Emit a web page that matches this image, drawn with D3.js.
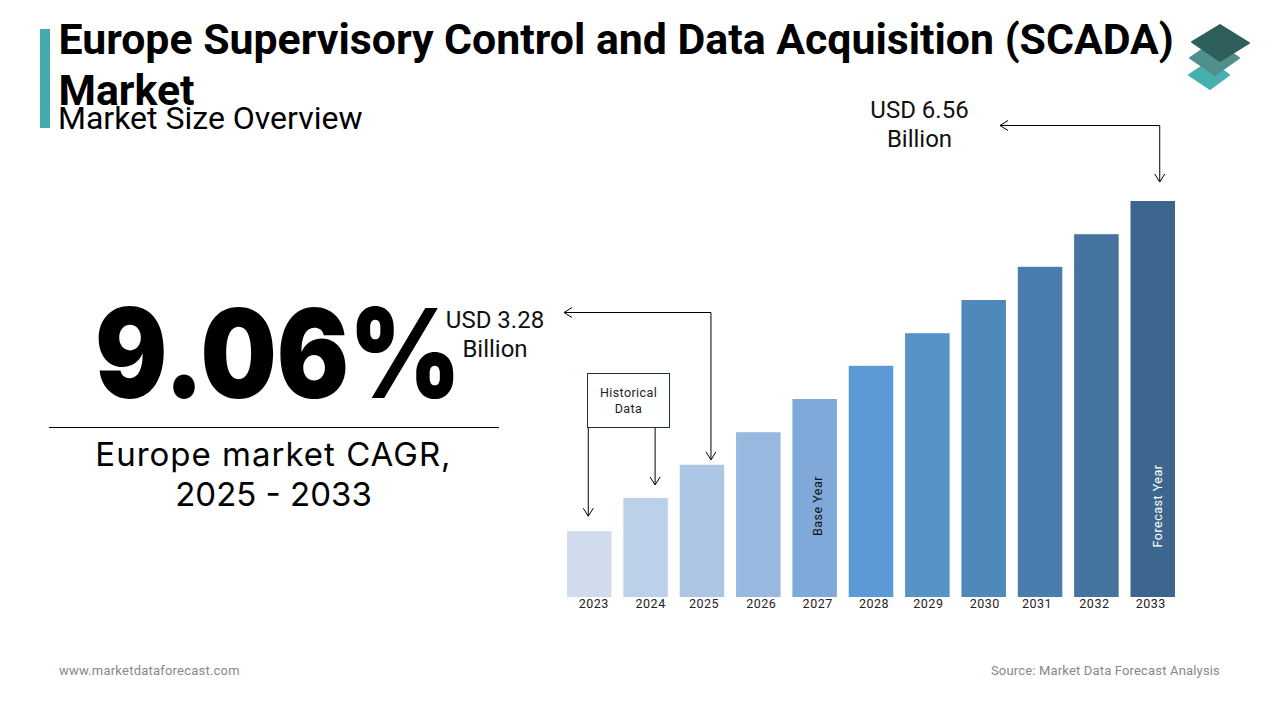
<!DOCTYPE html>
<html>
<head>
<meta charset="utf-8">
<script src="https://cdn.jsdelivr.net/npm/d3@7"></script>
<style>
  html, body { margin: 0; padding: 0; background: #fff; }
  svg { display: block; font-family: Roboto, sans-serif; }
</style>
</head>
<body>
<svg id="chart" width="1280" height="720"></svg>
<script>
const years = ["2023", "2024", "2025", "2026", "2027", "2028", "2029", "2030", "2031", "2032", "2033"];
// bar heights, on a scale where the 2033 bar is 6.56
const barValues = [1.09, 1.64, 2.19, 2.73, 3.28, 3.83, 4.37, 4.92, 5.47, 6.01, 6.56];
const barColors = ["#d0dcee", "#bdd0e9", "#adc6e4", "#97b8df", "#7fa9d9", "#5b9ad6", "#5592c8", "#4f89bb", "#4a7dad", "#44739f", "#3c668d"];
// the year labels sit a little off the bar centres in the original
const tickNudge = [4.5, 5, 2, 3, 3, 3, 1, 1, -3, -2, -2];

const titleLines = ["Europe Supervisory Control and Data Acquisition (SCADA)", "Market"];
const subtitle = "Market Size Overview";
const cagrValue = "9.06%";
const cagrLines = ["Europe market CAGR,", "2025 - 2033"];
const startLabel = ["USD 3.28", "Billion"];
const endLabel = ["USD 6.56", "Billion"];
const historicalLabel = ["Historical", "Data"];
const footerLeft = "www.marketdataforecast.com";
const footerRight = "Source: Market Data Forecast Analysis";

const svg = d3.select("#chart");

const x = d3.scaleBand()
  .domain(years)
  .range([567, 1175])
  .paddingInner(0.21)
  .paddingOuter(0);

const y = d3.scaleLinear()
  .domain([0, 6.56])
  .range([597, 201]);

const barTop = year => y(barValues[years.indexOf(year)]);

// header
svg.append("rect")
  .attr("x", 40).attr("y", 29)
  .attr("width", 10).attr("height", 99)
  .attr("fill", "#45aaaa");

svg.append("g").selectAll("text")
  .data(titleLines)
  .join("text")
  .attr("x", 58.5)
  .attr("y", (d, i) => 54 + i * 51)
  .attr("font-size", 42.8)
  .attr("font-weight", 700)
  .attr("fill", "#000")
  .text(d => d);

svg.append("text")
  .attr("x", 58).attr("y", 129)
  .attr("font-size", 32)
  .attr("fill", "#000")
  .text(subtitle);

// logo, three stacked diamonds
const logo = svg.append("g");
const layers = [
  { points: [[1189, 75], [1210, 61], [1229, 75], [1210, 89]], fill: "#46b0b0" },
  { points: [[1190, 58], [1215, 41], [1239, 58], [1215, 75]], fill: "#4f8f8c" },
  { points: [[1192, 42], [1220, 25], [1249, 43], [1220, 61]], fill: "#2f5f5c" }
];
logo.selectAll("polygon")
  .data(layers)
  .join("polygon")
  .attr("points", d => d.points.join(" "))
  .attr("fill", d => d.fill)
  .attr("stroke", d => d.fill)
  .attr("stroke-width", 2)
  .attr("stroke-linejoin", "round");

// left block
svg.append("text")
  .attr("x", 95).attr("y", 398)
  .attr("font-family", "Inter, sans-serif")
  .attr("font-size", 124)
  .attr("font-weight", 900)
  .attr("textLength", 366)
  .attr("lengthAdjust", "spacingAndGlyphs")
  .attr("fill", "#000")
  .text(cagrValue);

svg.append("line")
  .attr("x1", 49).attr("x2", 499)
  .attr("y1", 427.5).attr("y2", 427.5)
  .attr("stroke", "#000")
  .attr("stroke-width", 1);

svg.append("g").selectAll("text")
  .data(cagrLines)
  .join("text")
  .attr("x", 273.5)
  .attr("y", (d, i) => 466 + i * 39.5)
  .attr("text-anchor", "middle")
  .attr("font-family", "Inter, sans-serif")
  .attr("font-size", 33)
  .attr("letter-spacing", (d, i) => i === 0 ? 1 : 0)
  .attr("fill", "#000")
  .text(d => d);

// bars
svg.append("g").selectAll("rect")
  .data(years)
  .join("rect")
  .attr("x", d => x(d))
  .attr("y", d => barTop(d))
  .attr("width", x.bandwidth())
  .attr("height", d => y(0) - barTop(d))
  .attr("fill", (d, i) => barColors[i]);

const xAxis = svg.append("g")
  .attr("transform", `translate(0,${y(0)})`)
  .call(d3.axisBottom(x).tickSize(0).tickPadding(2));
xAxis.select(".domain").remove();
xAxis.selectAll("text")
  .attr("dx", (d, i) => tickNudge[i])
  .attr("font-family", "Roboto, sans-serif")
  .attr("font-size", 12.5)
  .attr("letter-spacing", 0.5)
  .attr("fill", "#222");

// labels inside the bars
function barNote(year, text, color, dx) {
  const cx = x(year) + x.bandwidth() / 2 + dx;
  svg.append("text")
    .attr("transform", `translate(${cx},${y(0) - 91}) rotate(-90)`)
    .attr("text-anchor", "middle")
    .attr("dy", "0.35em")
    .attr("font-size", 12.5)
    .attr("letter-spacing", 0.5)
    .attr("fill", color)
    .text(text);
}
barNote("2027", "Base Year", "#111", 3);
barNote("2033", "Forecast Year", "#fff", 5);

// arrows
const arrows = svg.append("g")
  .attr("fill", "none")
  .attr("stroke", "#000")
  .attr("stroke-width", 1);

function arrowHead(tx, ty, dir) {
  const len = 8, half = 5;
  const d = dir === "down"
    ? [[tx - half, ty - len], [tx, ty], [tx + half, ty - len]]
    : [[tx + len, ty - half], [tx, ty], [tx + len, ty + half]];
  arrows.append("path").attr("d", d3.line()(d));
}

function elbowArrow(year, dx, gap, leftEnd, rowY) {
  const ax = x(year) + x.bandwidth() / 2 + dx;
  const tip = barTop(year) - gap;
  arrows.append("path").attr("d", d3.line()([[leftEnd, rowY], [ax, rowY], [ax, tip]]));
  arrowHead(leftEnd, rowY, "left");
  arrowHead(ax, tip, "down");
}
elbowArrow("2025", 9, 5, 564, 312.5);
elbowArrow("2033", 7, 19, 1000, 125.5);

function dropArrow(year, dx, gap, startY) {
  const ax = x(year) + x.bandwidth() / 2 + dx;
  const tip = barTop(year) - gap;
  arrows.append("path").attr("d", d3.line()([[ax, startY], [ax, tip]]));
  arrowHead(ax, tip, "down");
}
dropArrow("2023", -1, 15, 427);
dropArrow("2024", 9.5, 13, 427);

svg.append("rect")
  .attr("x", 587.5).attr("y", 373.5)
  .attr("width", 82).attr("height", 54)
  .attr("fill", "#fff")
  .attr("stroke", "#1c3040")
  .attr("stroke-width", 1);

svg.append("g").selectAll("text")
  .data(historicalLabel)
  .join("text")
  .attr("x", 628.5)
  .attr("y", (d, i) => 397 + i * 16)
  .attr("text-anchor", "middle")
  .attr("font-size", 12.5)
  .attr("letter-spacing", 0.4)
  .attr("fill", "#222")
  .text(d => d);

// value callouts
function callout(lines, cx, firstY) {
  svg.append("g").selectAll("text")
    .data(lines)
    .join("text")
    .attr("x", cx)
    .attr("y", (d, i) => firstY + i * 29)
    .attr("text-anchor", "middle")
    .attr("font-size", 24)
    .attr("fill", "#111")
    .text(d => d);
}
callout(startLabel, 495, 328);
callout(endLabel, 919.5, 118);

// footer
svg.append("text")
  .attr("x", 59).attr("y", 675)
  .attr("font-size", 13)
  .attr("letter-spacing", 0.22)
  .attr("fill", "#888")
  .text(footerLeft);

svg.append("text")
  .attr("x", 1220).attr("y", 675)
  .attr("text-anchor", "end")
  .attr("font-size", 13)
  .attr("letter-spacing", 0.17)
  .attr("fill", "#888")
  .text(footerRight);
</script>
</body>
</html>
